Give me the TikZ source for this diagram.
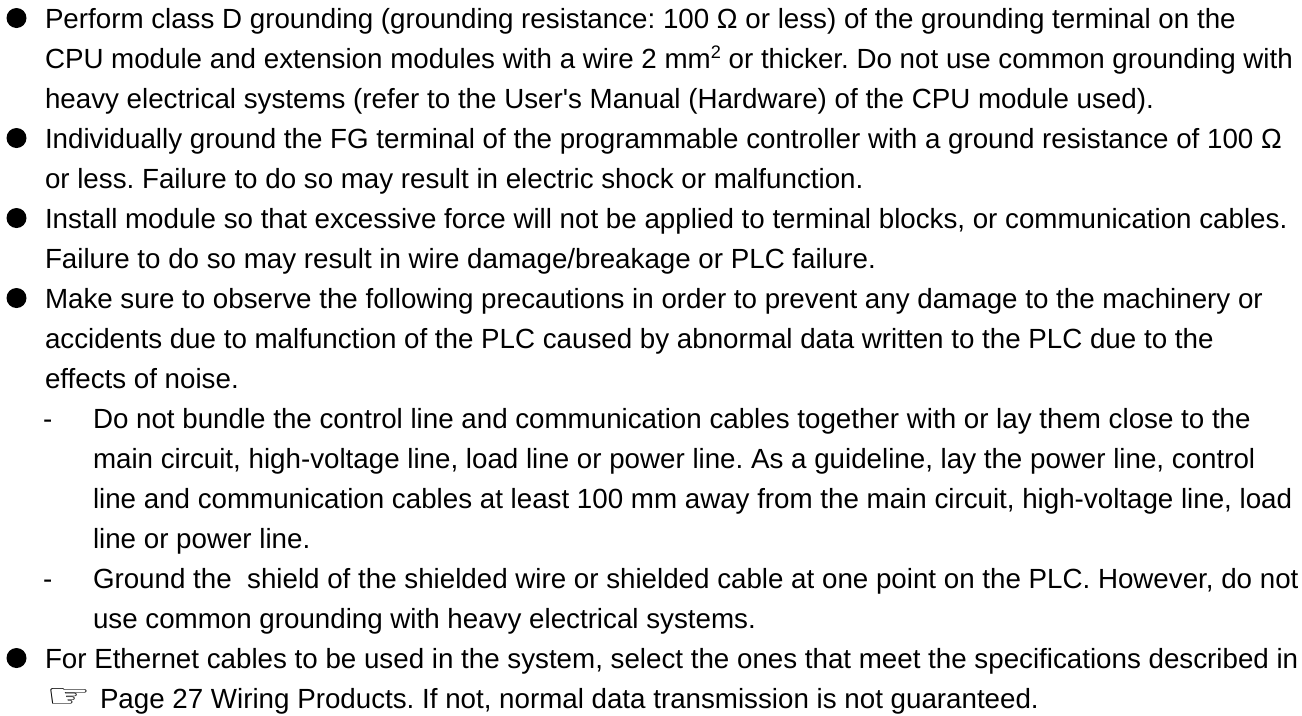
\documentclass[tikz,border=0pt]{standalone}
\usepackage{fontspec}
\newfontfamily\arial{Liberation Sans}
\newfontfamily\symfont{DejaVu Sans}
\frenchspacing
\tikzset{
  txt/.style={anchor=base west, inner sep=0pt, outer sep=0pt, font=\arial\fontsize{20.8}{24}\selectfont, text=black},
  bul/.style={circle, fill=black, inner sep=0pt, minimum size=15pt},
}
\newcommand{\supertwo}{\raisebox{7.5pt}{\fontsize{13.6}{14}\selectfont 2}}
\begin{document}
\begin{tikzpicture}[x=0.75pt,y=-0.75pt]
\useasboundingbox (0,0) rectangle (1302,715);
% bullets
\node[bul] (b1) at (16.5,18) {};
\node[bul] (b2) at (16.5,138) {};
\node[bul] (b3) at (16.5,218) {};
\node[bul] (b4) at (16.5,298) {};
\node[bul] (b5) at (16.5,658) {};
% main lines
\node[txt] (l1) at (45,28) {Perform class D grounding (grounding resistance: 100 Ω or less) of the grounding terminal on the};
\node[txt] (l2) at (45,68) {CPU module and extension modules with a wire 2 mm\supertwo{} or thicker. Do not use common grounding with};
\node[txt] (l3) at (45,108) {heavy electrical systems (refer to the User's Manual (Hardware) of the CPU module used).};
\node[txt] (l4) at (45,148) {Individually ground the FG terminal of the programmable controller with a ground resistance of 100 Ω};
\node[txt] (l5) at (45,188) {or less. Failure to do so may result in electric shock or malfunction.};
\node[txt] (l6) at (45,228) {Install module so that excessive force will not be applied to terminal blocks, or communication cables.};
\node[txt] (l7) at (45,268) {Failure to do so may result in wire damage/breakage or PLC failure.};
\node[txt] (l8) at (45,308) {Make sure to observe the following precautions in order to prevent any damage to the machinery or};
\node[txt] (l9) at (45,348) {accidents due to malfunction of the PLC caused by abnormal data written to the PLC due to the};
\node[txt] (l10) at (45,388) {effects of noise.};
\node[txt] (d1) at (43,428) {-};
\node[txt] (l11) at (93,428) {Do not bundle the control line and communication cables together with or lay them close to the};
\node[txt] (l12) at (93,468) {main circuit, high-voltage line, load line or power line. As a guideline, lay the power line, control};
\node[txt] (l13) at (93,508) {line and communication cables at least 100 mm away from the main circuit, high-voltage line, load};
\node[txt] (l14) at (93,548) {line or power line.};
\node[txt] (d2) at (43,588) {-};
\node[txt] (l15) at (93,588) {Ground the\ \ shield of the shielded wire or shielded cable at one point on the PLC. However, do not};
\node[txt] (l16) at (93,628) {use common grounding with heavy electrical systems.};
\node[txt] (l17) at (45,668) {For Ethernet cables to be used in the system, select the ones that meet the specifications described in};
\node[txt, xscale=1.5] (hand) at (46,707) {\symfont\fontsize{25}{25}\selectfont ☞};
\node[txt] (l18) at (100,708) {Page 27 Wiring Products. If not, normal data transmission is not guaranteed.};
\end{tikzpicture}
\end{document}
